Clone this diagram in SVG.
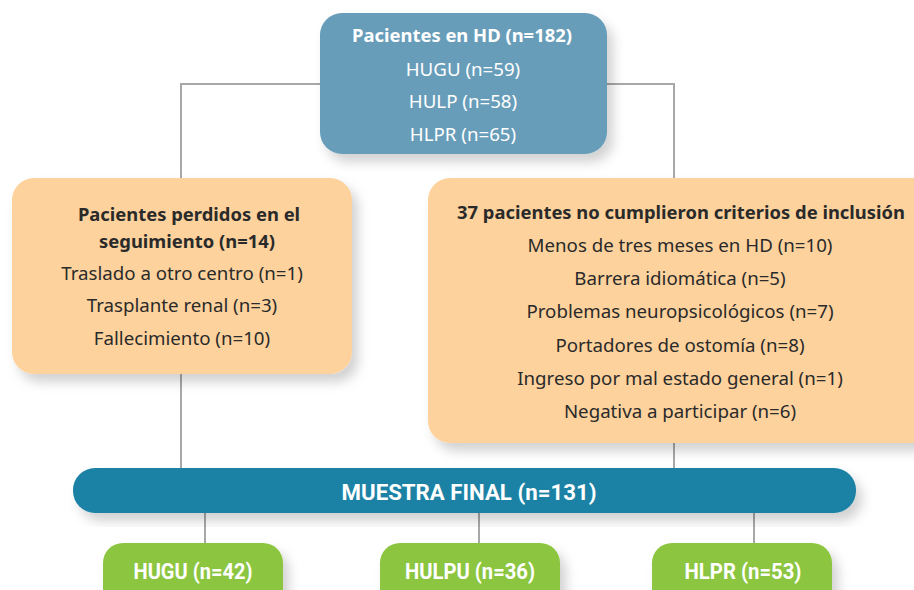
<svg xmlns="http://www.w3.org/2000/svg" width="914" height="590" viewBox="0 0 914 590">
<defs>
<filter id="sh" x="-10%" y="-10%" width="130%" height="140%">
<feDropShadow dx="6" dy="8" stdDeviation="6" flood-color="#000" flood-opacity="0.18"/>
</filter>
<style>
.t{font-family:"Noto Sans","Open Sans",sans-serif;font-size:18.7px;text-anchor:middle;fill:#2a2a2a}
.b{font-weight:bold;font-size:18.4px}
.w{fill:#ffffff}
.c{font-family:"Roboto","Noto Sans",sans-serif;font-weight:bold;font-size:22px;text-anchor:middle;fill:#ffffff}
.ln{stroke:#a8a8a8;stroke-width:2;fill:none}
</style>
</defs>
<rect width="914" height="590" fill="#ffffff"/>
<g id="connectors">
<path class="ln" d="M181 178 V84 H674 V178"/>
<path class="ln" d="M181 374 V468"/>
<path class="ln" d="M674 443 V468"/>
<path class="ln" d="M205 513 V543 M479 513 V543 M754 513 V543"/>
</g>
<g id="top">
<rect x="320" y="13" width="287" height="141" rx="22" fill="#679DBA" filter="url(#sh)"/>
<text class="t b w" x="462" y="42">Pacientes en HD (n=182)</text>
<text class="t w" x="463" y="76">HUGU (n=59)</text>
<text class="t w" x="463" y="108">HULP (n=58)</text>
<text class="t w" x="463" y="141">HLPR (n=65)</text>
</g>
<g id="lost">
<rect x="12" y="178" width="340" height="196" rx="22" fill="#FDD29D" filter="url(#sh)"/>
<text class="t b" x="189" y="221">Pacientes perdidos en el</text>
<text class="t b" x="187" y="248">seguimiento (n=14)</text>
<text class="t" x="182" y="280">Traslado a otro centro (n=1)</text>
<text class="t" x="182" y="312">Trasplante renal (n=3)</text>
<text class="t" x="182" y="345">Fallecimiento (n=10)</text>
</g>
<g id="excluded">
<rect x="428" y="178" width="510" height="265" rx="22" fill="#FDD29D" filter="url(#sh)"/>
<text class="t b" x="681" y="219">37 pacientes no cumplieron criterios de inclusión</text>
<text class="t" x="680" y="252">Menos de tres meses en HD (n=10)</text>
<text class="t" x="680" y="285">Barrera idiomática (n=5)</text>
<text class="t" x="680" y="318">Problemas neuropsicológicos (n=7)</text>
<text class="t" x="680" y="352">Portadores de ostomía (n=8)</text>
<text class="t" x="680" y="385">Ingreso por mal estado general (n=1)</text>
<text class="t" x="680" y="418">Negativa a participar (n=6)</text>
</g>
<g id="final">
<rect x="73" y="468" width="783" height="45" rx="22" fill="#1B82A5" filter="url(#sh)"/>
<text class="c" x="469" y="500" textLength="255" lengthAdjust="spacingAndGlyphs">MUESTRA FINAL (n=131)</text>
</g>
<g id="hugu">
<rect x="103" y="543" width="180" height="70" rx="20" fill="#8CC63F" filter="url(#sh)"/>
<text class="c" x="193" y="579" textLength="119" lengthAdjust="spacingAndGlyphs">HUGU (n=42)</text>
</g>
<g id="hulpu">
<rect x="380" y="543" width="180" height="70" rx="20" fill="#8CC63F" filter="url(#sh)"/>
<text class="c" x="470" y="579" textLength="130" lengthAdjust="spacingAndGlyphs">HULPU (n=36)</text>
</g>
<g id="hlpr">
<rect x="652" y="543" width="180" height="70" rx="20" fill="#8CC63F" filter="url(#sh)"/>
<text class="c" x="743" y="579" textLength="117" lengthAdjust="spacingAndGlyphs">HLPR (n=53)</text>
</g>
</svg>
